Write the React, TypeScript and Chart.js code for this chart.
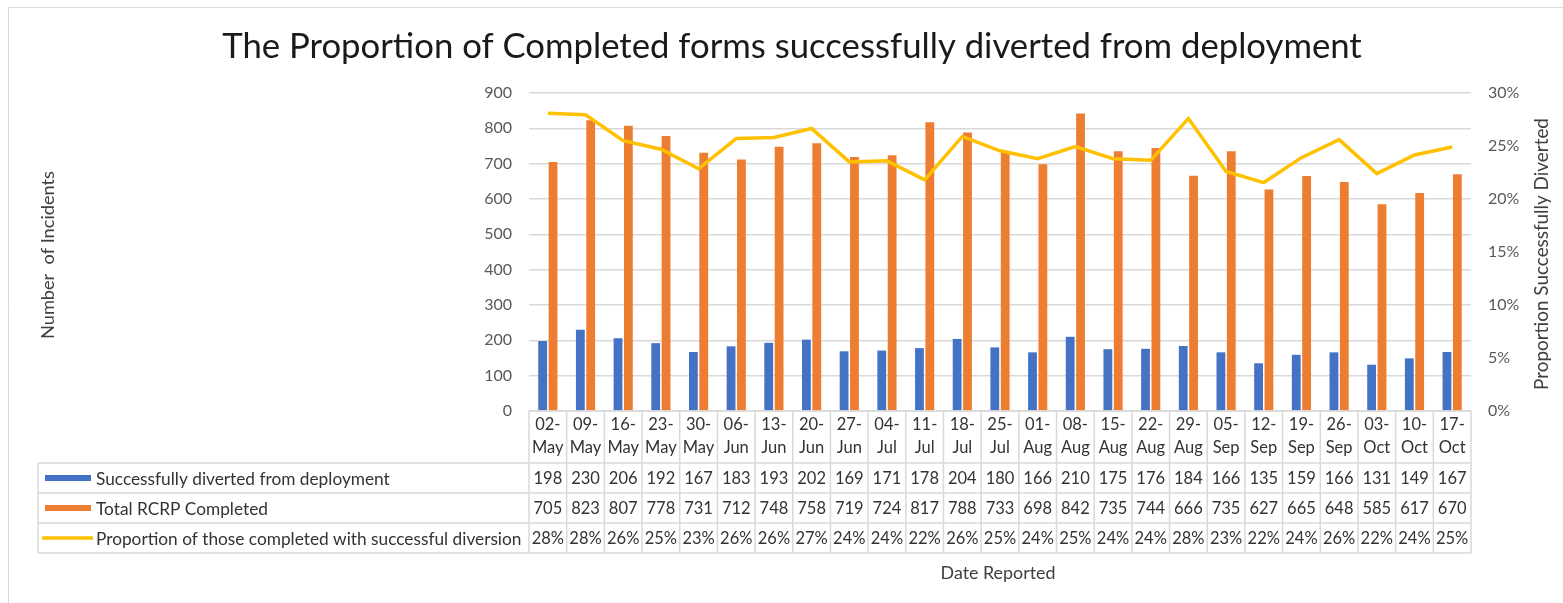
import React, { useEffect, useRef } from "react";
import { Chart, registerables } from "chart.js";

Chart.register(...registerables);

const categories = ["02-May", "09-May", "16-May", "23-May", "30-May", "06-Jun", "13-Jun", "20-Jun", "27-Jun", "04-Jul", "11-Jul", "18-Jul", "25-Jul", "01-Aug", "08-Aug", "15-Aug", "22-Aug", "29-Aug", "05-Sep", "12-Sep", "19-Sep", "26-Sep", "03-Oct", "10-Oct", "17-Oct"];
const diverted = [198, 230, 206, 192, 167, 183, 193, 202, 169, 171, 178, 204, 180, 166, 210, 175, 176, 184, 166, 135, 159, 166, 131, 149, 167];
const completed = [705, 823, 807, 778, 731, 712, 748, 758, 719, 724, 817, 788, 733, 698, 842, 735, 744, 666, 735, 627, 665, 648, 585, 617, 670];
const proportion = [0.281, 0.2795, 0.255, 0.247, 0.2285, 0.257, 0.258, 0.2665, 0.235, 0.236, 0.218, 0.259, 0.2455, 0.238, 0.2495, 0.238, 0.2365, 0.276, 0.226, 0.2155, 0.239, 0.256, 0.224, 0.2415, 0.249];
const proportionLabels = ["28%", "28%", "26%", "25%", "23%", "26%", "26%", "27%", "24%", "24%", "22%", "26%", "25%", "24%", "25%", "24%", "24%", "28%", "23%", "22%", "24%", "26%", "22%", "24%", "25%"];

const seriesNames = ["Successfully diverted from deployment", "Total RCRP Completed", "Proportion of those completed with successful diversion"];
const title = "The Proportion of Completed forms successfully diverted from deployment";
const leftAxisTitle = "Number  of Incidents";
const rightAxisTitle = "Proportion Successfully Diverted";
const xAxisTitle = "Date Reported";

const BLUE = "#4472C4";
const ORANGE = "#ED7D31";
const YELLOW = "#FFC000";
const GRID = "#d9d9d9";
const FONT = "Lato, 'Open Sans', sans-serif";

function fitFont(ctx: CanvasRenderingContext2D, text: string, width: number, base: number) {
  ctx.font = `${base}px ${FONT}`;
  const w = ctx.measureText(text).width;
  const fs = base * width / w;
  ctx.font = `${fs}px ${FONT}`;
  return fs;
}

const chromePlugin = {
  id: "chrome",
  beforeDraw(chart: any) {
    const ctx = chart.ctx;
    ctx.save();
    ctx.fillStyle = "#fff";
    ctx.fillRect(0, 0, chart.width, chart.height);
    ctx.strokeStyle = GRID;
    ctx.lineWidth = 1;
    ctx.beginPath();
    ctx.moveTo(8.5, chart.height + 5);
    ctx.lineTo(8.5, 7.5);
    ctx.lineTo(chart.width + 5, 7.5);
    ctx.stroke();
    ctx.restore();
  },
  afterDraw(chart: any) {
    const ctx = chart.ctx;
    const xs = chart.scales.x;
    const n = categories.length;
    const step = xs.getPixelForValue(1) - xs.getPixelForValue(0);
    const left = xs.getPixelForValue(0) - step / 2;
    const right = left + n * step;
    const top = chart.chartArea.bottom;
    const headerBottom = top + 52;
    const rowH = 30;
    const tableLeft = 38;
    const rows = [headerBottom, headerBottom + rowH, headerBottom + 2 * rowH, headerBottom + 3 * rowH];
    ctx.save();

    // title
    fitFont(ctx, title, 1140, 30);
    ctx.fillStyle = "#1a1a1a";
    ctx.textAlign = "center";
    ctx.textBaseline = "middle";
    ctx.fillText(title, 792, 47);

    // axis titles
    ctx.fillStyle = "#404040";
    ctx.save();
    ctx.translate(48, 255);
    ctx.rotate(-Math.PI / 2);
    fitFont(ctx, leftAxisTitle, 168, 16);
    ctx.fillText(leftAxisTitle, 0, 0);
    ctx.restore();
    ctx.save();
    ctx.translate(1542, 254);
    ctx.rotate(-Math.PI / 2);
    fitFont(ctx, rightAxisTitle, 272, 16);
    ctx.fillText(rightAxisTitle, 0, 0);
    ctx.restore();
    fitFont(ctx, xAxisTitle, 115, 16);
    ctx.fillText(xAxisTitle, 998, 573);

    // table grid
    ctx.strokeStyle = GRID;
    ctx.lineWidth = 1.5;
    ctx.beginPath();
    ctx.moveTo(left, top);
    ctx.lineTo(right, top);
    for (const y of rows) {
      ctx.moveTo(tableLeft, y);
      ctx.lineTo(right, y);
    }
    for (let i = 0; i <= n; i++) {
      const x = left + i * step;
      ctx.moveTo(x, top);
      ctx.lineTo(x, rows[3]);
    }
    ctx.moveTo(tableLeft, rows[0]);
    ctx.lineTo(tableLeft, rows[3]);
    ctx.stroke();

    // category labels and values
    ctx.fillStyle = "#333333";
    ctx.font = `16.5px ${FONT}`;
    ctx.textAlign = "center";
    ctx.textBaseline = "middle";
    const valueRows = [diverted.map(String), completed.map(String), proportionLabels];
    for (let i = 0; i < n; i++) {
      const cx = left + (i + 0.5) * step;
      const parts = categories[i].split("-");
      ctx.fillText(parts[0] + "-", cx, top + 14);
      ctx.fillText(parts[1], cx, top + 37);
      valueRows.forEach((vals, r) => {
        ctx.fillText(vals[i], cx, rows[r] + rowH / 2 + 1);
      });
    }

    // legend keys and names
    ctx.textAlign = "left";
    const legendSize = fitFont(ctx, seriesNames[2], 426, 16);
    const keyColors = [BLUE, ORANGE];
    seriesNames.forEach((name, r) => {
      const cy = rows[r] + rowH / 2;
      if (r < 2) {
        ctx.fillStyle = keyColors[r];
        ctx.fillRect(45, cy - 3, 46, 6);
      } else {
        ctx.strokeStyle = YELLOW;
        ctx.lineWidth = 3.5;
        ctx.beginPath();
        ctx.moveTo(42, cy);
        ctx.lineTo(93, cy);
        ctx.stroke();
      }
      ctx.fillStyle = "#333333";
      ctx.font = `${legendSize}px ${FONT}`;
      ctx.fillText(name, 96, cy + 1);
    });
    ctx.restore();
  },
};

export default function App() {
  const ref = useRef<HTMLCanvasElement | null>(null);
  useEffect(() => {
    if (!ref.current) return;
    const chart = new Chart(ref.current, {
      type: "bar",
      data: {
        labels: categories,
        datasets: [
          { type: "bar", label: seriesNames[0], data: diverted, backgroundColor: BLUE, yAxisID: "y", order: 2, categoryPercentage: 0.55, barPercentage: 0.85 },
          { type: "bar", label: seriesNames[1], data: completed, backgroundColor: ORANGE, yAxisID: "y", order: 2, categoryPercentage: 0.55, barPercentage: 0.85 },
          { type: "line", label: seriesNames[2], data: proportion, borderColor: YELLOW, backgroundColor: YELLOW, borderWidth: 3.5, pointRadius: 0, tension: 0, yAxisID: "y1", order: 0 },
        ] as any,
      },
      options: {
        animation: false,
        responsive: false,
        devicePixelRatio: 1,
        layout: { padding: { top: 93, bottom: 192, left: 0, right: 0 } },
        plugins: { legend: { display: false }, tooltip: { enabled: false }, title: { display: false } },
        scales: {
          x: { display: false, offset: true },
          y: {
            position: "left",
            min: 0,
            max: 900,
            afterFit: (s: any) => { s.width = 529; },
            ticks: { stepSize: 100, padding: 17, color: "#595959", font: { family: FONT, size: 16 } },
            grid: { color: GRID, lineWidth: 1.5, drawTicks: false },
            border: { display: false },
          },
          y1: {
            position: "right",
            min: 0,
            max: 0.3,
            afterFit: (s: any) => { s.width = 92; },
            ticks: { stepSize: 0.05, padding: 17, color: "#595959", font: { family: FONT, size: 16 }, callback: (v: any) => Math.round(Number(v) * 100) + "%" },
            grid: { display: false, drawTicks: false },
            border: { display: false },
          },
        },
      } as any,
      plugins: [chromePlugin],
    });
    return () => chart.destroy();
  }, []);
  return (
    <div style={{ position: "fixed", left: 0, top: 0, width: 1563, height: 603 }}>
      <canvas ref={ref} width={1563} height={603} style={{ width: 1563, height: 603, display: "block" }} />
    </div>
  );
}
